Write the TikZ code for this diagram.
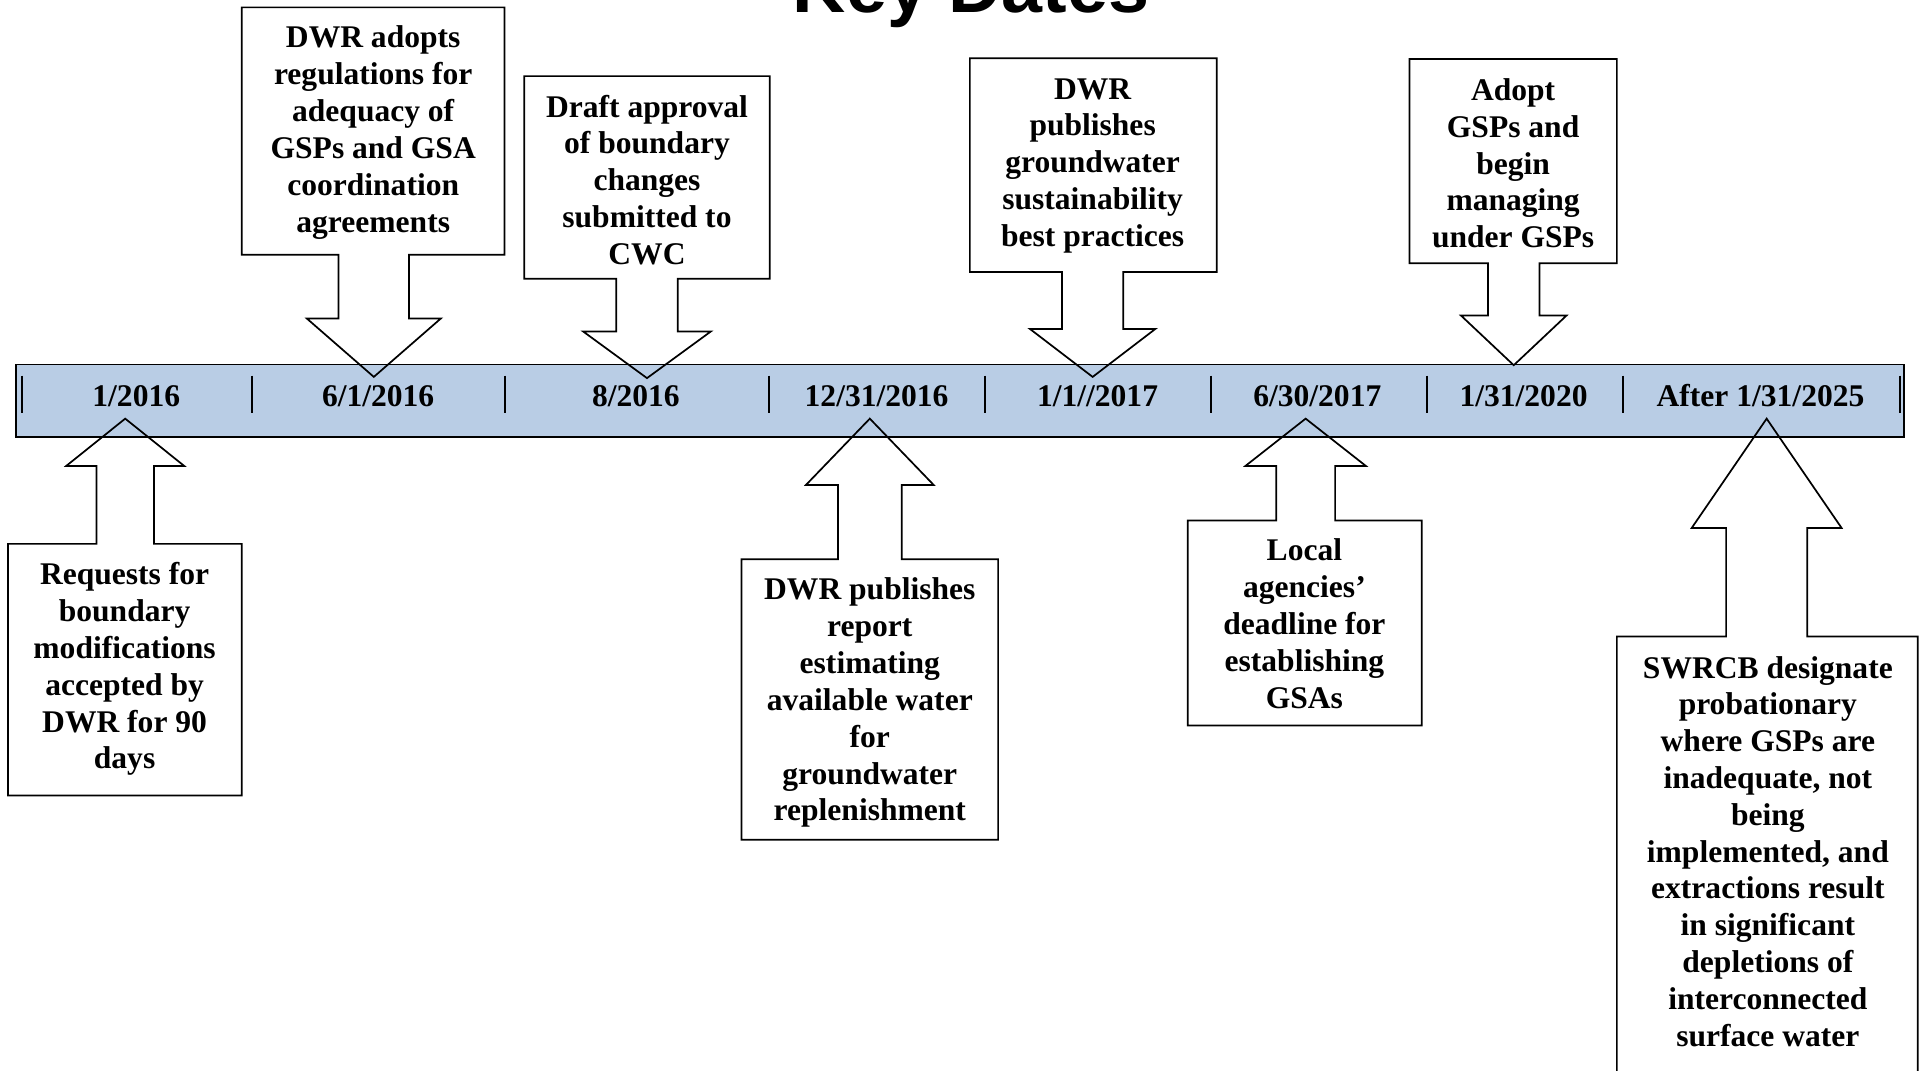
\documentclass[tikz,border=0pt]{standalone}
\usepackage{fontspec}
\setmainfont{Liberation Serif}
\newfontfamily\titlefont{Liberation Sans}
\definecolor{barblue}{HTML}{B9CDE5}

% Callout outline: box plus a block arrow pointing at the timeline.
% #1 arrow x, #2 box left, #3 box right, #4 box far edge y, #5 box edge y at the arrow,
% #6 shaft half width, #7 head half width, #8 head base y, #9 tip y
\newcommand\keydatecallout[9]{%
  \draw[outline] (#2,#4) -- (#3,#4) -- (#3,#5) -- ({#1+#6},#5) -- ({#1+#6},#8)
    -- ({#1+#7},#8) -- (#1,#9) -- ({#1-#7},#8) -- ({#1-#6},#8) -- ({#1-#6},#5)
    -- (#2,#5) -- cycle;}

\begin{document}
\begin{tikzpicture}[x=1pt,y=-1pt,
  outline/.style={draw=black, line width=1.4pt, line join=miter},
  sepline/.style={draw=black, line width=1.6pt},
  boxtext/.style={font=\bfseries\fontsize{25.7}{30}\selectfont, align=center, inner sep=0pt},
  datetext/.style={font=\bfseries\fontsize{25.7}{30}\selectfont, inner sep=0pt, anchor=base}]

\useasboundingbox (0,0) rectangle (1568,872);
\clip (0,0) rectangle (1568,872);

% title
\node[font=\titlefont\bfseries\fontsize{60}{72}\selectfont, anchor=base, inner sep=0pt]
  (title) at (791,10.3) {Key Dates};

% timeline bar
\draw[outline, fill=barblue] (13,297) rectangle (1551,356);
\foreach \x in {18.2,205.4,411,626,802,986.2,1162,1322,1548}
  \draw[sepline] (\x,306) -- (\x,336);

% dates
\node[datetext] (d1) at (111,331) {1/2016};
\node[datetext] (d2) at (308,331) {6/1/2016};
\node[datetext] (d3) at (518,331) {8/2016};
\node[datetext] (d4) at (714,331) {12/31/2016};
\node[datetext] (d5) at (894,331) {1/1//2017};
\node[datetext] (d6) at (1073,331) {6/30/2017};
\node[datetext] (d7) at (1241,331) {1/31/2020};
\node[datetext] (d8) at (1434,331) {After 1/31/2025};

% callouts above the bar
\keydatecallout{304.5}{197}{411}{6}{207.5}{28.7}{54.5}{259.5}{307}
\keydatecallout{527}{427}{627}{62}{227}{25}{52}{270}{308}
\keydatecallout{890}{790}{991}{47.5}{221.5}{25}{51}{268}{307}
\keydatecallout{1233}{1148}{1317}{48}{214.5}{21}{43}{257}{297.5}

% callouts below the bar
\keydatecallout{102}{6.5}{197}{648}{443}{23.4}{48}{379.5}{341}
\keydatecallout{708.5}{604}{813}{684}{455.5}{26}{52}{395}{341}
\keydatecallout{1063.5}{967.5}{1158}{591}{424}{24}{49}{379.5}{341}
\keydatecallout{1439}{1317}{1562}{900}{518.5}{33}{61}{430}{341}

% callout texts
\node[boxtext] (c1) at (304,108) {DWR adopts\\regulations for\\adequacy of\\GSPs and GSA\\coordination\\agreements};
\node[boxtext] (c2) at (527,146.5) {Draft approval\\of boundary\\changes\\submitted to\\CWC};
\node[boxtext] (c3) at (890,135) {DWR\\publishes\\groundwater\\sustainability\\best practices};
\node[boxtext] (c4) at (1232.5,133) {Adopt\\GSPs and\\begin\\managing\\under GSPs};
\node[boxtext] (c5) at (101.5,545) {Requests for\\boundary\\modifications\\accepted by\\DWR for 90\\days};
\node[boxtext] (c6) at (708.5,572.5) {DWR publishes\\report\\estimating\\available water\\for\\groundwater\\replenishment};
\node[boxtext] (c7) at (1062.5,508) {Local\\agencies’\\deadline for\\establishing\\GSAs};
\node[boxtext] (c8) at (1440,693.5) {SWRCB designate\\probationary\\where GSPs are\\inadequate, not\\being\\implemented, and\\extractions result\\in significant\\depletions of\\interconnected\\surface water};
\end{tikzpicture}
\end{document}
